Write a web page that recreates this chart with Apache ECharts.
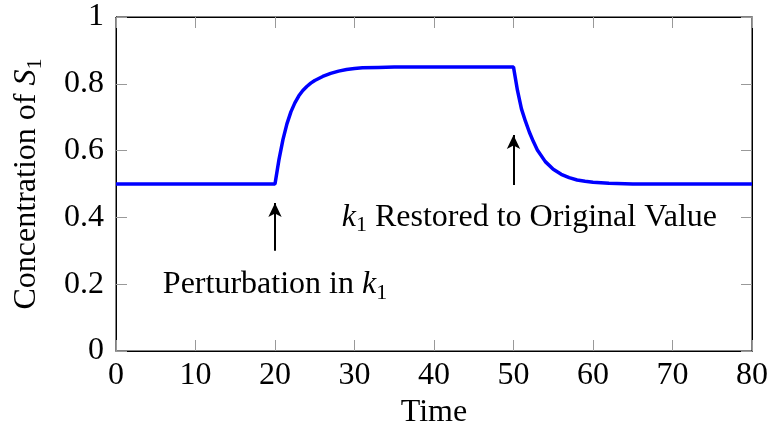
<!DOCTYPE html>
<html>
<head>
<meta charset="utf-8">
<script src="https://cdn.jsdelivr.net/npm/echarts@6/dist/echarts.min.js"></script>
<style>
  * { margin: 0; padding: 0; }
  body { background: #fff; }
</style>
</head>
<body>
<!-- chart container -->
<div id="main" style="width:769px;height:430px;"></div>
<script>
// time points and concentration of S1
var times = [0, 5, 10, 15, 20, 20.5, 21, 21.5, 22, 22.5, 23, 23.5, 24, 24.5, 25, 26, 27, 28, 29, 30, 31, 33, 35, 40, 45, 50,
  50.5, 51, 51.5, 52, 52.5, 53, 54, 55, 56, 57, 58, 59, 60, 62, 65, 70, 75, 80];
var conc = [0.5, 0.5, 0.5, 0.5, 0.5, 0.573, 0.633, 0.68, 0.716, 0.743, 0.764, 0.78, 0.792, 0.802, 0.81, 0.822, 0.831, 0.838, 0.843, 0.846, 0.848, 0.849, 0.85, 0.85, 0.85, 0.85,
  0.78, 0.725, 0.688, 0.655, 0.627, 0.602, 0.567, 0.544, 0.529, 0.519, 0.512, 0.508, 0.505, 0.502, 0.5, 0.5, 0.5, 0.5];

var xTicks = [0, 10, 20, 30, 40, 50, 60, 70, 80];
var yTicks = [0, 0.2, 0.4, 0.6, 0.8, 1];

// annotations: arrows [x, yFrom, yTo] and text [x, y]
var arrows = [[20, 0.30, 0.443], [50, 0.497, 0.647]];
var notes = [
  { x: 20, y: 0.198, text: "Perturbation in {i|k}{sub|1}" },
  { x: 52, y: 0.40, text: "{i|k}{sub|1} Restored to Original Value" }
];

var font = "'Liberation Serif', 'Times New Roman', serif";
var fs = 32;
var rich = {
  i: { fontFamily: font, fontSize: fs, fontStyle: "italic", color: "#000" },
  sub: { fontFamily: font, fontSize: 22, color: "#000", padding: [16, 0, 0, 0] }
};

var data = times.map(function (t, i) { return [t, conc[i]]; });

var chart = echarts.init(document.getElementById("main"));

function axisBase(min, max, interval) {
  return {
    type: "value",
    min: min,
    max: max,
    interval: interval,
    splitLine: { show: false },
    axisLine: { show: true, onZero: false, lineStyle: { color: "#000", width: 1 } },
    axisTick: { show: true, inside: true, length: 11, lineStyle: { color: "#999", width: 1 } }
  };
}

var xMain = axisBase(xTicks[0], xTicks[xTicks.length - 1], 10);
xMain.position = "bottom";
xMain.name = "Time";
xMain.nameLocation = "middle";
xMain.nameGap = 44;
xMain.nameTextStyle = { fontFamily: font, fontSize: fs, color: "#000" };
xMain.axisLabel = { fontFamily: font, fontSize: fs, color: "#000", margin: 9 };

var xTop = axisBase(xTicks[0], xTicks[xTicks.length - 1], 10);
xTop.position = "top";
xTop.axisLabel = { show: false };

var yMain = axisBase(yTicks[0], yTicks[yTicks.length - 1], 0.2);
yMain.position = "left";
yMain.name = "Concentration of {i|S}{sub|1}";
yMain.nameLocation = "middle";
yMain.nameGap = 70;
yMain.nameTextStyle = { fontFamily: font, fontSize: fs, color: "#000", rich: rich };
yMain.axisLabel = { fontFamily: font, fontSize: fs, color: "#000", margin: 12 };

var yRight = axisBase(yTicks[0], yTicks[yTicks.length - 1], 0.2);
yRight.position = "right";
yRight.axisLabel = { show: false };

chart.setOption({
  animation: false,
  textStyle: { fontFamily: font },
  grid: {
    left: 116, right: 17, top: 17, bottom: 79,
    outerBoundsMode: "none",
    show: true, borderColor: "#000", borderWidth: 1
  },
  xAxis: [xMain, xTop],
  yAxis: [yMain, yRight],
  series: [
    {
      name: "S1",
      type: "line",
      data: data,
      showSymbol: false,
      lineStyle: { color: "#0000ff", width: 3.5 },
      markLine: {
        silent: true,
        symbol: ["none", "arrow"],
        symbolSize: [10, 14],
        label: { show: false },
        lineStyle: { color: "#000", width: 2, type: "solid" },
        data: arrows.map(function (a) {
          return [{ coord: [a[0], a[1]] }, { coord: [a[0], a[2]] }];
        })
      }
    },
    {
      name: "notes",
      type: "scatter",
      symbolSize: 0,
      silent: true,
      itemStyle: { opacity: 1 },
      data: notes.map(function (n) { return { value: [n.x, n.y], text: n.text }; }),
      label: {
        show: true,
        position: "inside",
        fontFamily: font,
        fontSize: fs,
        color: "#000",
        formatter: function (p) { return p.data.text; },
        rich: rich
      }
    }
  ]
});
</script>
</body>
</html>
